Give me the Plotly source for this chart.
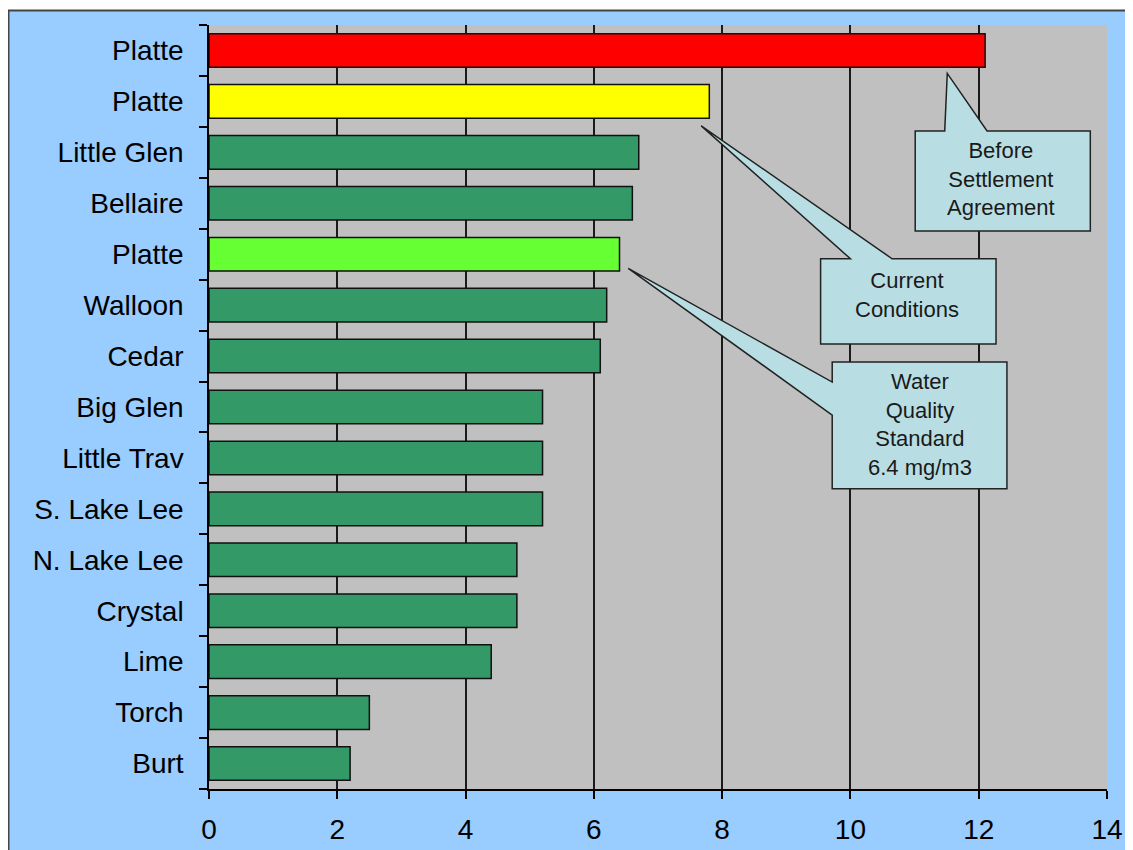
import plotly.graph_objects as go

# ---- data (top to bottom as shown) ----
lakes = ["Platte", "Platte", "Little Glen", "Bellaire", "Platte", "Walloon", "Cedar",
         "Big Glen", "Little Trav", "S. Lake Lee", "N. Lake Lee", "Crystal", "Lime",
         "Torch", "Burt"]
values = [12.1, 7.8, 6.7, 6.6, 6.4, 6.2, 6.1, 5.2, 5.2, 5.2, 4.8, 4.8, 4.4, 2.5, 2.2]
bar_colors = ["#FF0000", "#FFFF00", "#339966", "#339966", "#66FF33", "#339966", "#339966",
              "#339966", "#339966", "#339966", "#339966", "#339966", "#339966",
              "#339966", "#339966"]
x_ticks = [0, 2, 4, 6, 8, 10, 12, 14]

n = len(lakes)
ypos = [n - 1 - i for i in range(n)]  # top item highest

W, H = 1125, 842
ML, MR, MT, MB = 201, 26, 17, 61

fig = go.Figure()
fig.add_trace(go.Bar(
    x=values, y=ypos, orientation="h",
    marker=dict(color=bar_colors, line=dict(color="#111111", width=1.5)),
    width=0.66, hoverinfo="x+text", text=lakes, textposition="none",
))

def callout_box(x0, x1, y0, y1, base_pts, tip, side):
    # rectangle with a wedge pointer; side: 'top' or 'left'
    if side == "top":
        (bx0, bx1) = base_pts
        pts = [(x0, y1), (bx0, y1), tip, (bx1, y1), (x1, y1), (x1, y0), (x0, y0)]
    else:
        (by0, by1) = base_pts  # by0 upper, by1 lower
        pts = [(x0, y1), (x1, y1), (x1, y0), (x0, y0), (x0, by1), tip, (x0, by0)]
    path = "M " + " L ".join(f"{px},{py}" for px, py in pts) + " Z"
    return dict(type="path", path=path, xref="x", yref="y",
                fillcolor="#B8DEE3", line=dict(color="#222222", width=1.5), layer="above")

shapes = [
    callout_box(11.01, 13.74, 10.455, 12.42, (11.47, 12.13), (11.51, 13.55), "top"),
    callout_box(9.535, 12.27, 8.236, 9.91, (10.0, 10.65), (7.674, 12.52), "top"),
    callout_box(9.716, 12.44, 5.395, 7.883, (7.49, 6.842), (6.536, 9.723), "left"),
]

# outer white strip + dark frame line (top & left)
pw = W - ML - MR
ph = H - MT - MB
def px(xp):
    return (xp - ML) / pw
def py(yp):
    return 1 - (yp - MT) / ph
shapes += [
    dict(type="rect", xref="paper", yref="paper", x0=px(-5), x1=px(W + 5), y0=py(-5), y1=py(2),
         fillcolor="white", line=dict(width=0), layer="above"),
    dict(type="line", xref="paper", yref="paper", x0=px(0), x1=px(W + 5), y0=py(2.5), y1=py(2.5),
         line=dict(color="#444444", width=2), layer="above"),
    dict(type="line", xref="paper", yref="paper", x0=px(0.5), x1=px(0.5), y0=py(2.5), y1=py(H + 5),
         line=dict(color="#444444", width=2), layer="above"),
]

ann_font = dict(family="Liberation Sans, Arial, sans-serif", size=22, color="#1a1a1a")
annotations = [
    dict(x=12.35, y=11.48, xref="x", yref="y", text="Before<br>Settlement<br>Agreement",
         showarrow=False, font=ann_font, align="center"),
    dict(x=10.88, y=9.2, xref="x", yref="y", text="Current<br>Conditions",
         showarrow=False, font=ann_font, align="center"),
    dict(x=11.08, y=6.65, xref="x", yref="y", text="Water<br>Quality<br>Standard<br>6.4 mg/m3",
         showarrow=False, font=ann_font, align="center"),
]

tick_font = dict(family="Liberation Sans, Arial, sans-serif", size=28, color="black")

fig.update_layout(
    width=W, height=H,
    margin=dict(l=ML, r=MR, t=MT, b=MB, pad=0, autoexpand=False),
    paper_bgcolor="#99CCFF", plot_bgcolor="#C0C0C0",
    showlegend=False,
    bargap=0.34,
    shapes=shapes, annotations=annotations,
    xaxis=dict(range=[0, 14], tickvals=x_ticks, ticks="outside", ticklen=8,
               tickcolor="black", tickwidth=1.5,
               showgrid=True, gridcolor="#1a1a1a", gridwidth=1.5,
               showline=True, linecolor="black", linewidth=1.5,
               zeroline=False, tickfont=tick_font, ticklabelstandoff=7,
               automargin=False, fixedrange=True),
    yaxis=dict(range=[-0.5, n - 0.5], tickvals=ypos, ticktext=lakes, ticks="",
               showgrid=False, zeroline=False,
               showline=True, linecolor="black", linewidth=1.5,
               tickfont=tick_font, ticklabelstandoff=18,
               minor=dict(tickvals=[i - 0.5 for i in range(n + 1)], ticks="outside",
                          ticklen=8, tickcolor="black", tickwidth=1.5, showgrid=False),
               automargin=False, fixedrange=True),
)

fig.write_html("out.html")
